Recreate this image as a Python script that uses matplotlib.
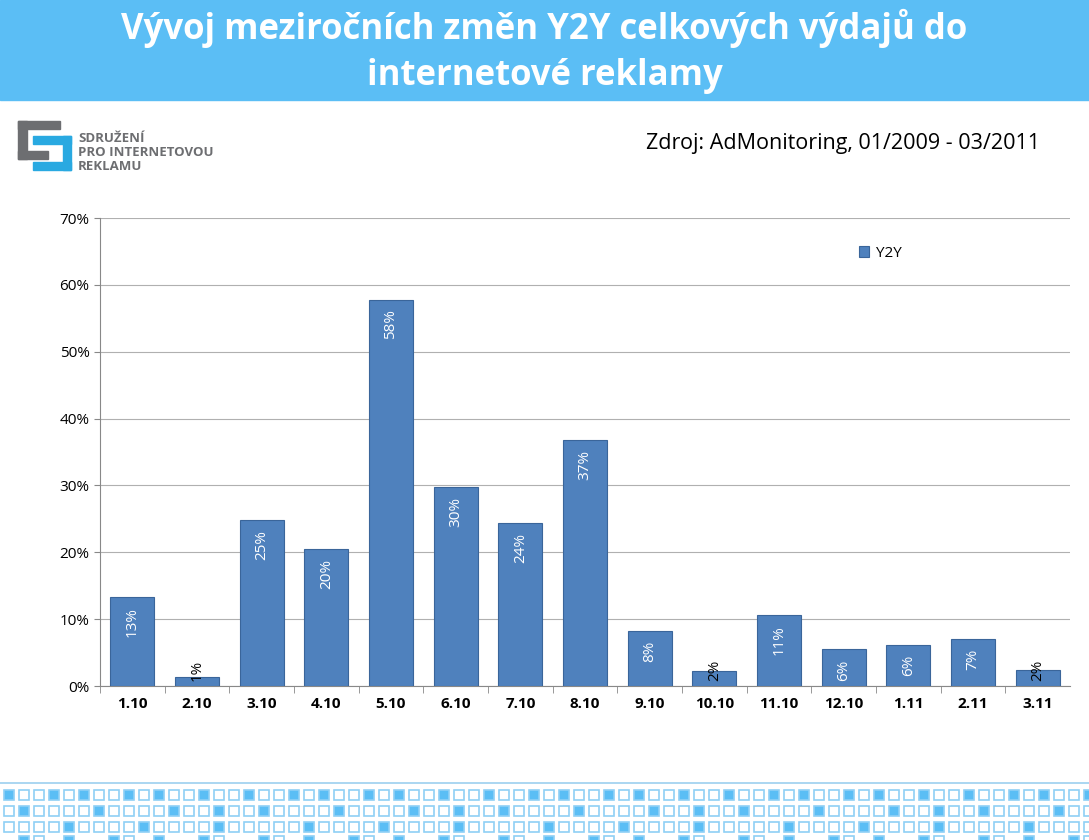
import matplotlib
matplotlib.use("Agg")
import matplotlib.pyplot as plt
from matplotlib.patches import Rectangle
from matplotlib.ticker import FuncFormatter, MultipleLocator

plt.rcParams["font.family"] = "Open Sans"

categories = ["1.10","2.10","3.10","4.10","5.10","6.10","7.10","8.10","9.10","10.10","11.10","12.10","1.11","2.11","3.11"]
y2y = [13.3, 1.3, 24.8, 20.5, 57.8, 29.8, 24.4, 36.8, 8.2, 2.2, 10.6, 5.5, 6.1, 7.0, 2.4]
value_labels = ["13%","1%","25%","20%","58%","30%","24%","37%","8%","2%","11%","6%","6%","7%","2%"]

W, H = 1089, 840
fig = plt.figure(figsize=(W/100, H/100), dpi=100)
fig.patch.set_facecolor("white")

def fx(x): return x / W
def fy(y): return 1 - y / H

# Title bar
fig.patches.append(Rectangle((0, fy(100)), 1, 100/H, transform=fig.transFigure, color="#5BBEF5", zorder=0))
fig.text(0.5, fy(28), "Vývoj meziročních změn Y2Y celkových výdajů do", ha="center", va="center",
         color="white", fontsize=25, fontweight="bold")
fig.text(0.5, fy(76), "internetové reklamy", ha="center", va="center",
         color="white", fontsize=25, fontweight="bold")

# Logo
grey = "#6D6E71"; blue = "#29A9E1"
for (x, y, w, h, c) in [(18,121,42,8,grey),(18,121,9,38,grey),(18,151,30,8,grey),
                         (33,136,38,8,blue),(63,136,8,34,blue),(33,162,38,8,blue)]:
    fig.patches.append(Rectangle((fx(x), fy(y+h)), w/W, h/H, transform=fig.transFigure, color=c))
for i, t in enumerate(["SDRUŽENÍ", "PRO INTERNETOVOU", "REKLAMU"]):
    fig.text(fx(78), fy(139 + i*14), t, fontsize=9.5, fontweight="bold", color="#6D6E71", va="center")

fig.text(fx(1040), fy(144), "Zdroj: AdMonitoring, 01/2009 - 03/2011", ha="right", va="center", fontsize=15.5)

# Axes
ax = fig.add_axes([fx(100), fy(686), (1070-100)/W, (686-218)/H])
x = list(range(len(categories)))
bars = ax.bar(x, y2y, width=0.68, color="#4F81BD", edgecolor="#3A659A", linewidth=0.8, label="Y2Y", zorder=3)
ax.set_xlim(-0.5, len(categories) - 0.5)
ax.set_ylim(0, 70)
ax.yaxis.set_major_locator(MultipleLocator(10))
ax.yaxis.set_major_formatter(FuncFormatter(lambda v, p: f"{v:.0f}%"))
ax.grid(axis="y", color="#B0B0B0", linewidth=0.8, zorder=0)
ax.set_xticks(x)
ax.set_xticklabels(categories, fontweight="bold", fontsize=11)
ax.tick_params(axis="y", labelsize=11, length=4, color="#888888")
ax.tick_params(axis="x", length=0, pad=8)
for s in ["top", "right"]:
    ax.spines[s].set_visible(False)
for s in ["left", "bottom"]:
    ax.spines[s].set_color("#888888")
ax.set_xticks([i + 0.5 for i in x[:-1]] + [-0.5], minor=True)
ax.tick_params(axis="x", which="minor", length=5, color="#888888")

for xi, v, lab in zip(x, y2y, value_labels):
    if v >= 5:
        ax.text(xi, v - 1.5, lab, rotation=90, ha="center", va="top", color="white", fontsize=11, zorder=4)
    else:
        ax.text(xi, 0.8, lab, rotation=90, ha="center", va="bottom", color="black", fontsize=11, zorder=4)

leg = ax.legend(loc="upper left", bbox_to_anchor=((845-100)/970, (686-232)/468), frameon=False,
                fontsize=11, handlelength=0.7, handleheight=0.7, handletextpad=0.4)

# Bottom decoration
fig.lines.append(plt.Line2D([0, 1], [fy(783), fy(783)], transform=fig.transFigure, color="#9CCFEF", lw=1.2))
pattern_rows = [
    "1001010010100100",
    "0100001000010010",
    "0000100001000010",
    "x10x1xx10x1xx10x",
]
rows_y = [790, 806, 822, 836]
for r, yy in enumerate(rows_y):
    pat = pattern_rows[r]
    for k in range(73):
        ch = pat[k % len(pat)]
        if ch == "x":
            continue
        filled = ch == "1"
        fig.patches.append(Rectangle((fx(4 + k*15), fy(yy+10)), 10/W, 10/H, transform=fig.transFigure,
                                     facecolor="#5BBEF5" if filled else "white",
                                     edgecolor="#8FD0F5", linewidth=1.2))

fig.savefig("out.png", dpi=100)
